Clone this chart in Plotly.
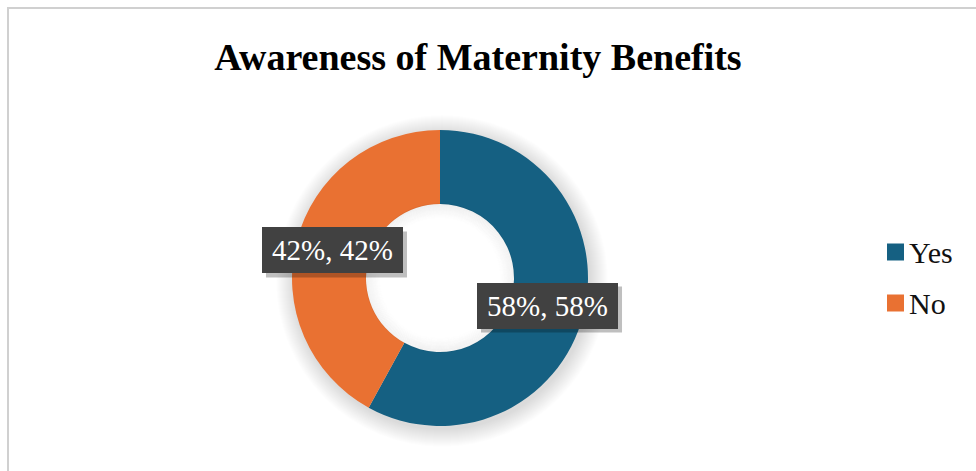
import math
import plotly.graph_objects as go

# Survey result: awareness of maternity benefits
categories = ["Yes", "No"]
shares = [58, 42]            # percent of respondents
colors = ["#156082", "#E97132"]
title_text = "Awareness of Maternity Benefits"

W, H = 976, 471
CX, CY = 440, 278            # donut centre (px)
R_OUT, HOLE = 148, 0.5
R_IN = R_OUT * HOLE
SERIF = "Liberation Serif"


def fx(px):
    return px / W


def fy(py):
    return 1 - py / H


def circle(cx, cy, r, **kw):
    return dict(type="circle", xref="paper", yref="paper",
                x0=fx(cx - r), x1=fx(cx + r), y0=fy(cy + r), y1=fy(cy - r), **kw)


fig = go.Figure()
fig.add_trace(go.Pie(
    labels=categories,
    values=shares,
    hole=HOLE,
    sort=False,
    direction="clockwise",
    rotation=0,
    marker=dict(colors=colors, line=dict(width=0)),
    textinfo="none",
    hoverinfo="label+percent",
    showlegend=False,
    domain=dict(x=[fx(CX - R_OUT), fx(CX + R_OUT)],
                y=[fy(CY + R_OUT), fy(CY - R_OUT)]),
))

shapes = []

# chart frame
shapes.append(dict(type="rect", xref="paper", yref="paper",
                   x0=fx(8), x1=fx(W + 10), y0=fy(H + 10), y1=fy(8),
                   line=dict(color="#d0d0d0", width=2), fillcolor="rgba(0,0,0,0)",
                   layer="below"))

# soft drop shadow around the ring
for k in range(1, 19):
    shapes.append(circle(CX + 2, CY + 3, R_OUT + k, line=dict(width=0),
                         fillcolor="rgba(0,0,0,0.008)", layer="below"))
# keep the hole clean
shapes.append(circle(CX, CY, R_IN + 2, line=dict(width=0),
                     fillcolor="white", layer="below"))

# inner shadow inside the hole
for d in range(0, 15):
    a = 0.045 * (1 - d / 15)
    shapes.append(circle(CX, CY, R_IN - d,
                         line=dict(width=1.3, color=f"rgba(0,0,0,{a:.3f})"),
                         fillcolor="rgba(0,0,0,0)", layer="above"))

annotations = []

# data labels placed at the middle of each slice's ring
total = sum(shares)
cum = 0
BOX_W, BOX_H, PAD = 125, 30, 8
r_mid = (R_OUT + R_IN) / 2
for cat, v in zip(categories, shares):
    mid = (cum + v / 2) / total * 2 * math.pi
    cum += v
    lx = CX + r_mid * math.sin(mid)
    ly = CY - r_mid * math.cos(mid)
    pct = round(v / total * 100)
    bw, bh = BOX_W + 2 * PAD, BOX_H + 2 * PAD
    shapes.append(dict(type="rect", xref="paper", yref="paper",
                       x0=fx(lx - bw / 2 + 4), x1=fx(lx + bw / 2 + 4),
                       y0=fy(ly + bh / 2 + 4), y1=fy(ly - bh / 2 + 4),
                       line=dict(width=0), fillcolor="rgba(0,0,0,0.25)",
                       layer="above"))
    annotations.append(dict(
        x=fx(lx), y=fy(ly), xref="paper", yref="paper",
        xanchor="center", yanchor="middle",
        text=f"{pct}%, {v}%", showarrow=False,
        width=BOX_W, height=BOX_H, borderpad=PAD, borderwidth=0,
        bgcolor="#414141",
        font=dict(family=SERIF, size=29, color="white"),
    ))

# legend
LEG_X, LEG_Y0, LEG_DY, SQ = 887, 252, 51, 17
for i, (cat, col) in enumerate(zip(categories, colors)):
    yy = LEG_Y0 + i * LEG_DY
    shapes.append(dict(type="rect", xref="paper", yref="paper",
                       x0=fx(LEG_X), x1=fx(LEG_X + SQ),
                       y0=fy(yy + SQ / 2), y1=fy(yy - SQ / 2),
                       line=dict(width=0), fillcolor=col, layer="above"))
    annotations.append(dict(
        x=fx(LEG_X + SQ + 3), y=fy(yy), xref="paper", yref="paper",
        xanchor="left", yanchor="middle", text=cat, showarrow=False,
        font=dict(family=SERIF, size=30, color="#111111"),
    ))

fig.update_layout(
    width=W, height=H,
    margin=dict(l=0, r=0, t=0, b=0),
    paper_bgcolor="white",
    plot_bgcolor="white",
    title=dict(text=title_text, x=fx(478), xanchor="center",
               y=fy(57), yanchor="middle", yref="paper",
               font=dict(family=SERIF, size=38, weight="bold", color="black")),
    shapes=shapes,
    annotations=annotations,
)

fig.write_html("out.html")
